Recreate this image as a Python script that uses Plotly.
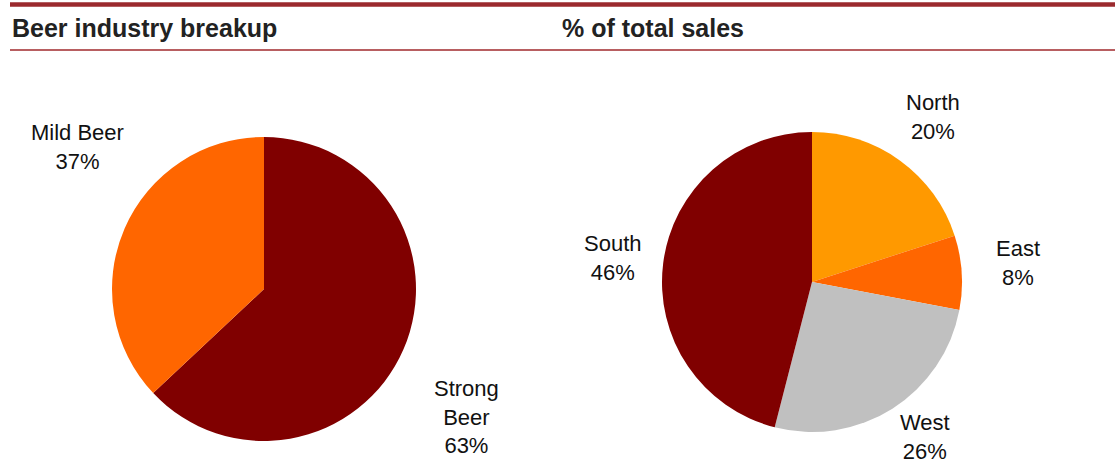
import plotly.graph_objects as go

W, H = 1115, 466

# Beer industry split
beer_types = ["Strong<br>Beer", "Mild Beer"]
beer_share = [63, 37]
beer_colors = ["#800000", "#FF6600"]

# Regional split of total sales
regions = ["North", "East", "West", "South"]
region_share = [20, 8, 26, 46]
region_colors = ["#FF9900", "#FF6600", "#C0C0C0", "#800000"]

# Label anchor points (pixels from top-left)
beer_label_pos = [(466, 417), (77, 147)]
region_label_pos = [(933, 117), (1018, 263), (925, 437), (613, 258)]


def px_x(x):
    return x / W


def px_y(y):
    return 1 - y / H


def pie_domain(cx, cy, r):
    return dict(x=[px_x(cx - r), px_x(cx + r)], y=[px_y(cy + r), px_y(cy - r)])


fig = go.Figure()

fig.add_trace(go.Pie(
    labels=beer_types, values=beer_share,
    marker=dict(colors=beer_colors, line=dict(width=0)),
    sort=False, direction="clockwise", rotation=0,
    textinfo="none", hoverinfo="label+percent",
    domain=pie_domain(264, 289, 152), showlegend=False,
))

fig.add_trace(go.Pie(
    labels=regions, values=region_share,
    marker=dict(colors=region_colors, line=dict(width=0)),
    sort=False, direction="clockwise", rotation=0,
    textinfo="none", hoverinfo="label+percent",
    domain=pie_domain(812, 282, 150), showlegend=False,
))

label_font = dict(family="Liberation Sans, Arial, sans-serif", size=22, color="#111111")
annotations = []
for names, vals, pos in [(beer_types, beer_share, beer_label_pos),
                         (regions, region_share, region_label_pos)]:
    total = sum(vals)
    for name, v, (lx, ly) in zip(names, vals, pos):
        annotations.append(dict(
            x=px_x(lx), y=px_y(ly), xref="paper", yref="paper",
            text=f"{name}<br>{round(100 * v / total)}%",
            showarrow=False, xanchor="center", yanchor="middle",
            font=label_font, align="center",
        ))

header_font = dict(family="Liberation Sans, Arial, sans-serif", size=25, color="#222222")
for text, hx in [("<b>Beer industry breakup</b>", 10), ("<b>% of total sales</b>", 560)]:
    annotations.append(dict(
        x=px_x(hx), y=px_y(28), xref="paper", yref="paper",
        text=text, showarrow=False, xanchor="left", yanchor="middle",
        font=header_font,
    ))

shapes = [
    dict(type="rect", xref="paper", yref="paper",
         x0=px_x(10), x1=1, y0=px_y(6.7), y1=px_y(2.3),
         fillcolor="#9B2A2E", line=dict(width=0)),
    dict(type="line", xref="paper", yref="paper",
         x0=px_x(10), x1=1, y0=px_y(50), y1=px_y(50),
         line=dict(color="#A0282D", width=1.5)),
]

fig.update_layout(
    width=W, height=H,
    margin=dict(l=0, r=0, t=0, b=0),
    paper_bgcolor="white", plot_bgcolor="white",
    annotations=annotations, shapes=shapes,
)

fig.write_html("out.html")
